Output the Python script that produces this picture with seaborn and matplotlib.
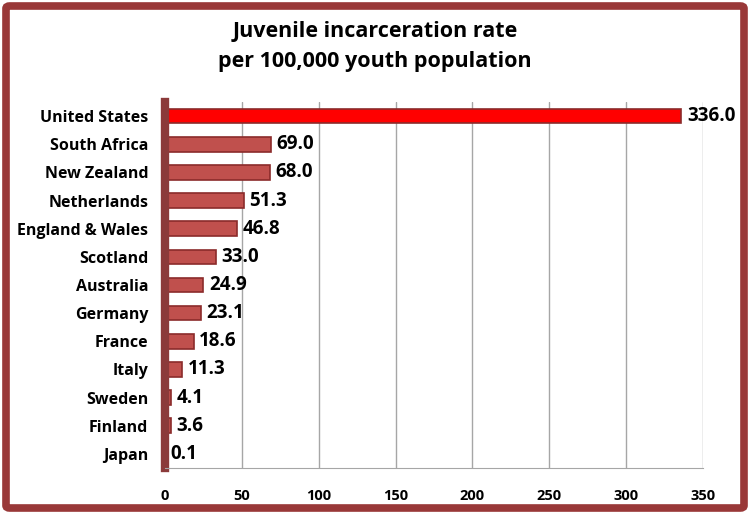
import pandas as pd
import numpy as np
import matplotlib.pyplot as plt
import seaborn as sns
from matplotlib.patches import FancyBboxPatch

countries = ['United States', 'South Africa', 'New Zealand', 'Netherlands', 'England & Wales',
             'Scotland', 'Australia', 'Germany', 'France', 'Italy', 'Sweden', 'Finland', 'Japan']
rates = [336.0, 69.0, 68.0, 51.3, 46.8, 33.0, 24.9, 23.1, 18.6, 11.3, 4.1, 3.6, 0.1]
xticks = [0, 50, 100, 150, 200, 250, 300, 350]

df = pd.DataFrame({'country': countries, 'rate': rates})
df['grp'] = ['us'] + ['other'] * (len(countries) - 1)

sns.set_style('white')
plt.rcParams['font.family'] = ['Open Sans', 'DejaVu Sans']
plt.rcParams['text.color'] = 'black'
plt.rcParams['xtick.labelcolor'] = 'black'
plt.rcParams['ytick.labelcolor'] = 'black'

fig = plt.figure(figsize=(7.5, 5.14), dpi=100)
ax = fig.add_axes([165/750, 1-468/514, (703-165)/750, (468-102)/514])

sns.barplot(data=df, y='country', x='rate', hue='grp', order=countries,
            palette={'us': '#FF0000', 'other': '#C0504D'}, saturation=1, width=0.52,
            edgecolor='#8B2B2B', linewidth=1.2, legend=False, dodge=False, ax=ax)

for c in ax.containers:
    ax.bar_label(c, fmt='%.1f', padding=4, fontsize=13.5, fontweight='bold', color='black')

ax.set_xlim(0, 350)
ax.set_xticks(xticks)
ax.set_xticklabels([str(t) for t in xticks], fontsize=10.5, fontweight='bold')
ax.set_yticks(range(len(countries)))
ax.set_yticklabels(countries, fontsize=11.5, fontweight='bold')
ax.set_xlabel('')
ax.set_ylabel('')
ax.xaxis.grid(True, color='#A6A6A6', linewidth=1)
ax.set_axisbelow(True)
for s in ['top', 'right']:
    ax.spines[s].set_visible(False)
ax.spines['bottom'].set_color('#A6A6A6')
ax.spines['left'].set_color('#8B3A3A')
ax.spines['left'].set_linewidth(6)
ax.tick_params(axis='x', length=4, color='#A6A6A6', pad=11)
ax.tick_params(axis='y', length=4, color='#A6A6A6', pad=8)

fig.text(0.5, 1-31/514, 'Juvenile incarceration rate', ha='center', va='center',
         fontsize=15.5, fontweight='bold', color='black')
fig.text(0.5, 1-61/514, 'per 100,000 youth population', ha='center', va='center',
         fontsize=15.5, fontweight='bold', color='black')

border = FancyBboxPatch((6/750, 6/514), 1-12/750, 1-12/514, boxstyle='round,pad=0,rounding_size=0.005',
                        transform=fig.transFigure, fill=False, edgecolor='#993838', linewidth=5.5)
fig.patches.append(border)

fig.savefig('out.png', dpi=100)
